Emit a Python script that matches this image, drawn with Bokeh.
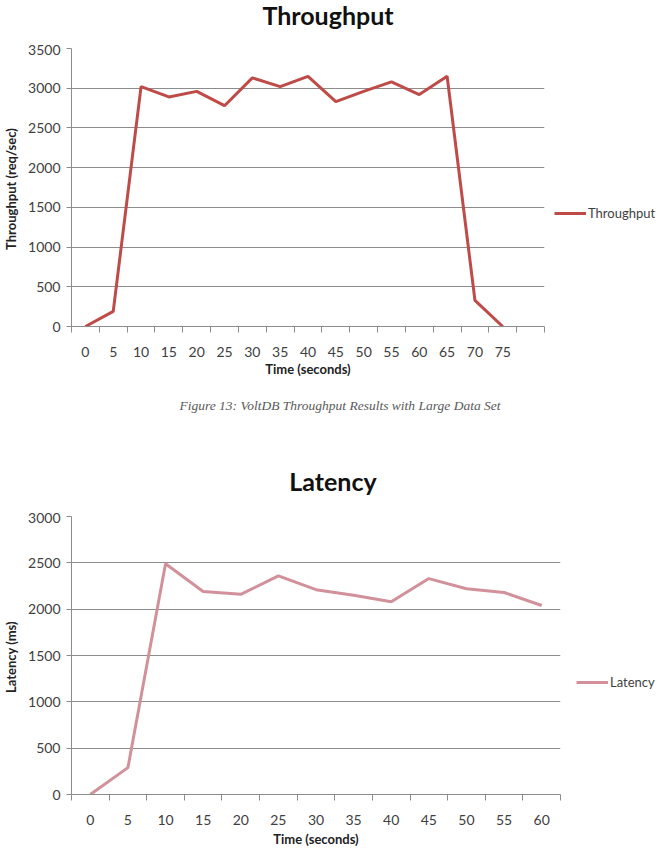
from bokeh.plotting import figure
from bokeh.models import FixedTicker, Legend, Title, Range1d, Div
from bokeh.layouts import column
from bokeh.embed import file_html
from bokeh.resources import INLINE

# ---- data ----
tp_time = [0, 5, 10, 15, 20, 25, 30, 35, 40, 45, 50, 55, 60, 65, 70, 75]
tp_values = [0, 190, 3020, 2890, 2960, 2780, 3130, 3020, 3150, 2830, 2960, 3080, 2920, 3150, 330, 0]
tp_yticks = [0, 500, 1000, 1500, 2000, 2500, 3000, 3500]

lat_time = [0, 5, 10, 15, 20, 25, 30, 35, 40, 45, 50, 55, 60]
lat_values = [0, 290, 2490, 2190, 2160, 2360, 2210, 2150, 2080, 2330, 2220, 2180, 2040]
lat_yticks = [0, 500, 1000, 1500, 2000, 2500, 3000]

FONT = "Lato"
GRID = "#8c8c8c"
TXT = "#404040"
FRAME_H = 278


def title_div(text, height, pad_top, inner_width):
    html = ('<div style="width:%dpx; padding-top:%dpx; margin:0; text-align:center; '
            'font-family:Lato; font-weight:bold; font-size:25px; line-height:30px; color:#111111;">'
            '%s</div>' % (inner_width, pad_top, text))
    return Div(text=html, width=672, height=height, margin=0)


def style(p, xt, n_slots, yt, ylabel, xlabel_standoff):
    p.outline_line_color = None
    p.xgrid.grid_line_color = None
    p.ygrid.grid_line_color = GRID
    p.ygrid.grid_line_width = 1
    bounds = [-2.5 + 5 * i for i in range(n_slots + 1)]
    p.xaxis.ticker = FixedTicker(ticks=xt, minor_ticks=bounds)
    p.xaxis.major_tick_line_color = None
    p.xaxis.minor_tick_line_color = GRID
    p.xaxis.minor_tick_out = 6
    p.xaxis.minor_tick_in = 0
    p.xaxis.axis_line_color = GRID
    p.xaxis.major_label_standoff = 14
    p.xaxis.axis_label = "Time (seconds)"
    p.yaxis.ticker = FixedTicker(ticks=yt, minor_ticks=[])
    p.yaxis.major_tick_out = 5
    p.yaxis.major_tick_in = 0
    p.yaxis.major_tick_line_color = GRID
    p.yaxis.axis_line_color = GRID
    p.yaxis.axis_label = ylabel
    p.yaxis.major_label_standoff = 6
    for ax in (p.xaxis[0], p.yaxis[0]):
        ax.major_label_text_font = FONT
        ax.major_label_text_font_size = "14px"
        ax.major_label_text_color = TXT
        ax.axis_label_text_font = FONT
        ax.axis_label_text_font_size = "13px"
        ax.axis_label_text_font_style = "bold"
        ax.axis_label_text_color = "#222222"
        ax.axis_label_standoff = 6
    p.xaxis.axis_label_standoff = xlabel_standoff


# ---- Throughput ----
t1 = title_div("Throughput", 44, 0, 656)
p1 = figure(frame_width=473, frame_height=FRAME_H, output_backend="svg", toolbar_location=None,
            title=None, x_range=Range1d(-2.5, -2.5 + 5 * 17), y_range=Range1d(0, 3500),
            min_border_left=65, min_border_top=4, min_border_right=0, min_border_bottom=100)
r1 = p1.line(tp_time, tp_values, line_color="#BE4B48", line_width=3)
style(p1, tp_time, 17, tp_yticks, "Throughput  (req/sec)", 1)
leg1 = Legend(items=[("Throughput", [r1])], location=(10, 103), border_line_color=None,
              background_fill_alpha=0, label_text_font=FONT, label_text_font_size="13px",
              label_text_color=TXT, glyph_width=32, label_standoff=2, padding=2, margin=0)
p1.add_layout(leg1, "right")
p1.min_border_right = 134
p1.add_layout(Title(text="Figure 13: VoltDB Throughput Results with Large Data Set", align="left",
                    text_font="Liberation Serif", text_font_style="italic", text_font_size="13.5px",
                    text_color="#595959", offset=108, standoff=33), "below")

# ---- Latency ----
t2 = title_div("Latency", 83, 37, 666)
p2 = figure(frame_width=489, frame_height=FRAME_H, output_backend="svg", toolbar_location=None,
            title=None, x_range=Range1d(-2.5, -2.5 + 5 * 13), y_range=Range1d(0, 3000),
            min_border_left=68, min_border_top=4, min_border_right=0, min_border_bottom=8)
r2 = p2.line(lat_time, lat_values, line_color="#D2919A", line_width=3)
style(p2, lat_time, 13, lat_yticks, "Latency  (ms)", 3)
leg2 = Legend(items=[("Latency", [r2])], location=(16, 102), border_line_color=None,
              background_fill_alpha=0, label_text_font=FONT, label_text_font_size="13px",
              label_text_color=TXT, glyph_width=32, label_standoff=2, padding=2, margin=0)
p2.add_layout(leg2, "right")
p2.min_border_right = 115

layout = column(t1, p1, t2, p2, spacing=0)
open("out.html", "w").write(file_html(layout, INLINE))
